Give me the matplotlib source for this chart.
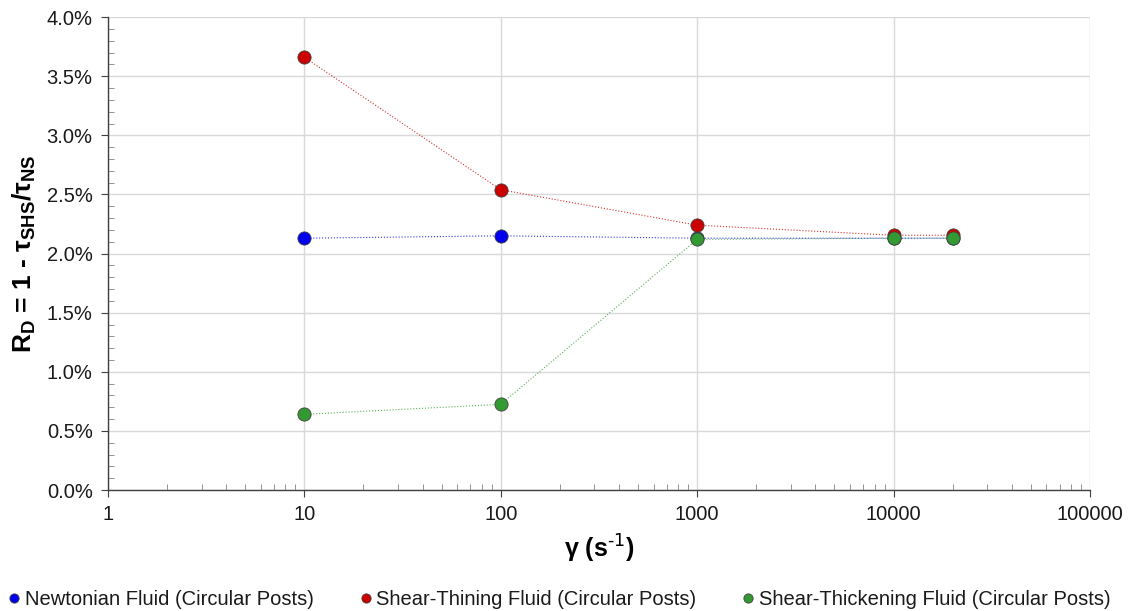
import matplotlib
matplotlib.use("Agg")
import matplotlib.pyplot as plt
from matplotlib.ticker import FuncFormatter, MultipleLocator, LogLocator, NullFormatter

plt.rcParams['font.family'] = ['Liberation Sans', 'DejaVu Sans']

shear_rate = [10, 100, 1000, 10000, 20000]
newtonian = [2.13, 2.15, 2.13, 2.13, 2.13]
shear_thinning = [3.66, 2.54, 2.24, 2.155, 2.155]
shear_thickening = [0.64, 0.725, 2.12, 2.13, 2.13]

series = [
    ("Newtonian Fluid (Circular Posts)", newtonian, "#0000ee"),
    ("Shear-Thining Fluid (Circular Posts)", shear_thinning, "#cc0000"),
    ("Shear-Thickening Fluid (Circular Posts)", shear_thickening, "#339933"),
]

fig = plt.figure(figsize=(11.33, 6.11), dpi=100)
ax = fig.add_axes([0.0953, 0.198, 0.8667, 0.774])

for label, vals, col in series:
    ax.plot(shear_rate, vals, linestyle=':', linewidth=0.8, color=col, alpha=0.8, zorder=2)
    ax.plot(shear_rate, vals, linestyle='none', marker='o', markersize=9.5,
            markerfacecolor=col, markeredgecolor='#404040', markeredgewidth=0.6,
            zorder=3, label=label)

ax.set_xscale('log')
ax.set_xlim(1, 100000)
ax.set_ylim(0, 4.0)
ax.yaxis.set_major_locator(MultipleLocator(0.5))
ax.yaxis.set_minor_locator(MultipleLocator(0.1))
ax.yaxis.set_major_formatter(FuncFormatter(lambda v, p: f"{v:.1f}%"))
ax.xaxis.set_major_locator(LogLocator(base=10, numticks=10))
ax.xaxis.set_minor_locator(LogLocator(base=10, subs=range(2, 10), numticks=100))
ax.xaxis.set_minor_formatter(NullFormatter())
ax.xaxis.set_major_formatter(FuncFormatter(lambda v, p: f"{int(round(v))}"))

ax.grid(True, which='major', color='#d9d9d9', linewidth=1.0, zorder=0)
ax.set_axisbelow(True)
for s in ['top', 'right']:
    ax.spines[s].set_visible(False)
for s in ['left', 'bottom']:
    ax.spines[s].set_color('#404040')
    ax.spines[s].set_linewidth(1.0)

ax.tick_params(axis='both', which='major', labelsize=14.5, direction='out', length=5,
               color='#404040', labelcolor='#1a1a1a')
ax.tick_params(axis='both', which='minor', direction='in', length=4, color='#808080')
ax.tick_params(axis='x', which='major', pad=6)
ax.tick_params(axis='y', which='major', pad=6)

ax.set_ylabel(r'R$_\mathregular{D}$ = 1 - τ$_\mathregular{SHS}$/τ$_\mathregular{NS}$',
              fontsize=19, fontweight='bold', labelpad=6)
ax.set_xlabel(r'γ (s$^\text{-1}$)', fontsize=18, fontweight='bold', labelpad=6)

leg = fig.legend(loc='lower center', bbox_to_anchor=(0.494, -0.026), ncol=3, frameon=False,
                 fontsize=14.5, handlelength=0.55, handletextpad=0.25, columnspacing=2.3,
                 markerscale=0.7)
for t in leg.get_texts():
    t.set_color('#1a1a1a')

fig.savefig("out.png", dpi=100)
